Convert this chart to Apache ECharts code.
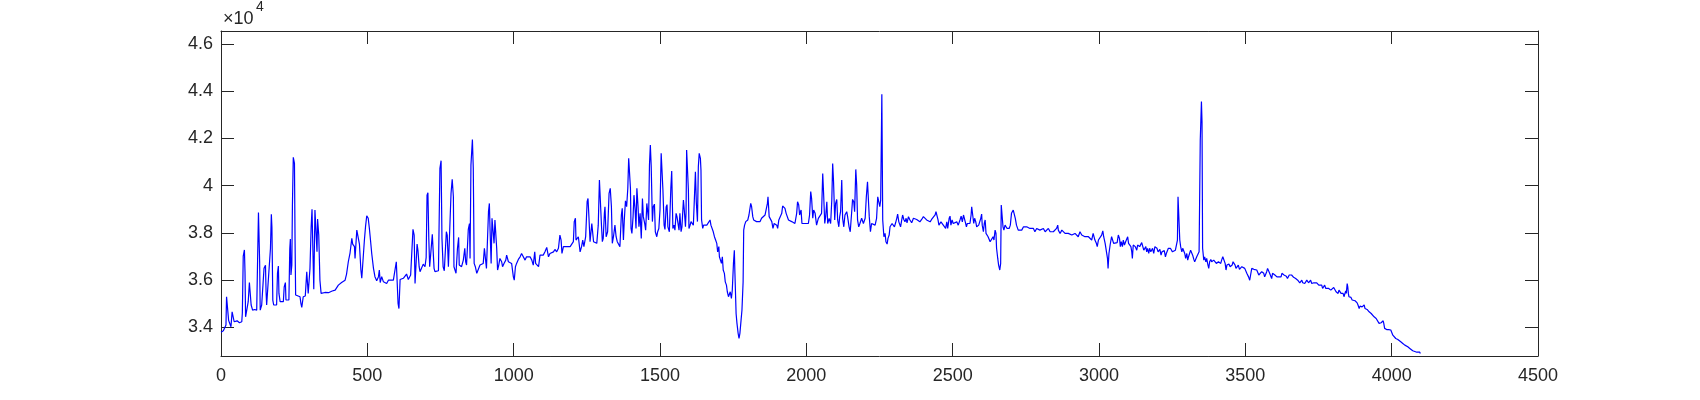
<!DOCTYPE html>
<html>
<head>
<meta charset="utf-8">
<script src="https://cdn.jsdelivr.net/npm/echarts@6/dist/echarts.min.js"></script>
<style>html,body{margin:0;padding:0;background:#fff;}#chart{width:1700px;height:400px;}</style>
</head>
<body>
<div id="chart"></div>
<script>
// Signal: [sample index, value]
const trace0 = [[0,33800],[4,33750],[8,33860],[14,33890],[17,34100],[19,35300],[24,35300],[26,34300],[29,34200],[34,34030],[38,34660],[42,34660],[45,34240],[55,34280],[63,34200],[71,34240],[73,34620],[76,37020],[80,37280],[82,36360],[84,34450],[90,34450],[93,35090],[97,35900],[101,35900],[103,34950],[108,34730],[115,34760],[122,34730],[125,36810],[128,38860],[131,38880],[132,36780],[134,34730],[139,34950],[147,36500],[152,36630],[154,35510],[156,34950],[162,34950],[169,37350],[172,38790],[174,38240],[177,35160],[180,34950],[190,34950],[193,36290],[196,36600],[198,35440],[202,35090],[213,35090],[216,35720],[220,35900],[222,35160],[232,35160],[235,37320],[237,37740],[239,36220],[242,36640],[244,39140],[247,41200],[251,40950],[253,37700],[255,35370],[260,35300],[270,35300],[273,35020],[276,34850],[281,35300],[288,35330],[290,35330],[293,36360],[296,36400],[298,35440],[304,36500],[308,38240],[311,39000],[314,37280],[317,35620],[321,38970],[326,38970],[328,37200],[330,38590],[334,37910],[338,36000],[342,35440],[344,35470],[355,35480],[367,35470],[380,35540],[390,35580],[401,35790],[412,35900],[424,36000],[429,36260],[435,36780],[441,37160],[447,37770],[450,37530],[456,37420],[458,36920],[464,38120],[469,38050],[473,37530],[478,36430],[481,36080],[483,36430],[490,37700],[494,38290],[498,38730],[503,38620],[507,38190],[511,37670],[515,37130],[521,36500],[526,36150],[532,35980],[538,36150],[541,36430],[544,35900],[549,36150],[555,35930],[560,36000],[566,35860],[572,36000],[580,36000],[589,36000],[592,35930],[599,36780],[603,36740],[605,35020],[608,34800],[612,36030],[617,36000],[623,36080],[629,36000],[634,36260],[640,36030],[645,36080],[648,36220],[652,36150],[656,38150],[660,37910],[663,35860],[665,35790],[670,37530],[673,37250],[677,36570],[680,36360],[686,36430],[691,36680],[697,36570],[701,36960],[704,39600],[707,39700],[710,37770],[713,36570],[718,36500],[722,37940],[726,37910],[728,36500],[731,36360],[737,36290],[743,36400],[748,40730],[752,41060],[755,37770],[759,36570],[763,36400]];
const trace1 = [[765,36430],[770,38050],[773,37910],[777,36570],[783,36640],[786,39680],[790,40270],[794,39530],[796,36570],[800,36640],[803,36290],[808,37350],[812,37810],[814,36640],[819,36640],[822,36570],[828,36850],[833,37350],[836,36780],[839,36640],[845,38150],[849,38400],[851,36920],[854,40870],[859,41960],[862,40730],[865,36710],[869,36570],[874,36290],[879,36360],[885,36640],[891,36710],[896,36710],[900,37350],[903,37350],[907,36500],[914,38900],[917,39250],[919,38260],[923,36710],[926,38620],[931,38660],[933,37560],[936,38550],[940,38480],[942,37350],[945,36430],[949,36640],[953,36920],[959,36780],[962,36570],[967,36710],[973,36850],[976,37060],[982,36780],[988,36850],[993,36710],[999,36140],[1002,36000],[1006,36570],[1010,36710],[1016,36880],[1022,36990],[1027,37130],[1033,37060],[1039,36850],[1044,36990],[1050,37060],[1056,36990],[1062,36850],[1067,36640],[1072,37200],[1075,36710],[1081,36780],[1085,36570],[1090,37060],[1096,36990],[1101,37060],[1107,37200],[1113,37390],[1119,36990],[1124,37130],[1130,37200],[1136,37200],[1141,37300],[1147,37200],[1153,37350],[1158,37910],[1162,37700],[1165,37130],[1170,37420],[1175,37350],[1181,37420],[1187,37350],[1193,37420],[1198,37350],[1204,37630],[1207,38480],[1211,38620],[1213,37700],[1218,37700],[1221,37840],[1227,37200],[1232,37420],[1236,37700],[1240,37420],[1246,37840],[1251,39320],[1254,39460],[1257,38720],[1261,37630],[1267,38400],[1270,38400],[1273,37630],[1277,37560],[1284,37560],[1289,38330],[1293,40240],[1297,40240],[1300,38330],[1303,37630],[1306,37770],[1310,38830],[1312,39110],[1316,37840],[1321,38050],[1326,39680],[1330,39890],[1334,39110],[1337,37560],[1341,37840],[1346,38330],[1350,37840],[1354,37630],[1360,37560],[1363,37420],[1368,38760],[1371,39040],[1375,37700],[1378,38550],[1382,39360],[1386,39110],[1390,39890],[1393,41160],[1396,41160],[1399,39890],[1401,38190],[1404,37980],[1408,38690],[1411,39600],[1415,38970],[1418,38190],[1421,39890],[1425,39110],[1428,38260],[1432,38830],[1436,37770],[1440,39460],[1443,38690],[1448,38380],[1451,38120],[1455,39250],[1458,39320],[1461,38550],[1464,40870],[1467,41720],[1470,40800],[1474,38480],[1477,39110],[1481,39220],[1484,38050],[1489,37840],[1492,38050],[1496,38190],[1500,38970],[1504,41370],[1507,41410],[1510,39820],[1514,38330],[1517,38150],[1521,39100],[1524,39200],[1527,38260],[1532,38050]];
const trace2 = [[1533,38010],[1537,39890],[1540,40620],[1542,40590],[1544,38190],[1548,38330],[1551,38120],[1555,38830],[1558,38690],[1562,38760],[1565,38120],[1568,38830],[1572,38050],[1575,38260],[1580,39390],[1583,38970],[1587,38260],[1589,38830],[1591,41510],[1595,41580],[1597,39820],[1599,38190],[1603,38330],[1606,38480],[1611,38550],[1614,38330],[1617,38260],[1621,40590],[1624,39320],[1628,38480],[1631,40800],[1634,41370],[1638,41160],[1640,40660],[1642,38550],[1646,38190],[1649,38330],[1654,38260],[1660,38330],[1665,38400],[1671,38550],[1674,38330],[1679,38260],[1682,38050],[1686,37840],[1690,37700],[1694,37560],[1697,37200],[1701,37420],[1703,36990],[1706,36920],[1710,36710],[1713,36990],[1716,36430],[1720,36290],[1723,35930],[1727,35790],[1730,35510],[1734,35300],[1737,35230],[1740,35510],[1744,35230],[1747,35580],[1751,36710],[1754,37270],[1756,36290],[1760,34590],[1763,34170],[1767,33750],[1770,33530],[1773,33750],[1777,34310],[1780,34730],[1784,35930],[1786,38120],[1789,38330],[1793,38480],[1796,38400],[1800,38550],[1804,38760],[1808,38830],[1810,39250],[1813,39110],[1817,38690],[1820,38550],[1825,38620],[1830,38480],[1836,38400],[1842,38480],[1847,38620],[1853,38620],[1859,38760],[1862,38830],[1867,39250],[1869,39530],[1873,38690],[1877,38620],[1882,38480],[1886,38190],[1890,38400],[1893,38480],[1899,38330],[1902,38190],[1906,38550],[1910,38620],[1916,38830],[1919,39140],[1923,39080],[1927,39040],[1931,38830],[1934,38760],[1939,38550],[1944,38620],[1950,38480],[1956,38550],[1961,38400],[1967,38830],[1970,39320],[1974,39180],[1977,38760],[1982,38970],[1985,38400],[1990,38330],[1996,38400],[2001,38330],[2007,38400],[2011,38760],[2015,39750],[2018,39460],[2022,38620],[2025,38970],[2030,38830],[2035,38330],[2041,38620],[2047,38690],[2052,38830],[2056,40520],[2059,39670],[2063,38400],[2066,38690],[2070,39320],[2073,38400],[2078,38620],[2083,38400],[2087,39390],[2090,40940],[2093,40170],[2097,38550],[2100,39250],[2104,39420],[2107,38550],[2111,38260],[2114,38690],[2117,38900],[2121,40240],[2124,38620],[2128,38260],[2132,38760],[2138,38900],[2141,38690],[2146,38260],[2150,38050],[2155,38900],[2158,39420],[2162,39320],[2165,38900],[2169,40690],[2172,40030],[2175,38550],[2179,38260],[2183,38400],[2189,38620],[2195,38400],[2201,38620],[2205,39530],[2209,40170],[2212,40240],[2215,38690],[2219,38050],[2223,38400],[2229,38400],[2235,38330],[2240,38620],[2244,39530],[2247,39600],[2251,39110],[2254,39390],[2258,43870],[2261,38550],[2265,37840],[2269,37980],[2272,37630],[2276,37530],[2279,37770],[2283,37910],[2286,38260],[2289,38330],[2293,38400],[2301,38260]];
const trace3 = [[2305,38430],[2309,38620],[2312,38800],[2316,38470],[2319,38500],[2322,38260],[2326,38550],[2329,38760],[2333,38570],[2337,38470],[2341,38620],[2344,38430],[2349,38690],[2354,38550],[2360,38430],[2366,38620],[2371,38550],[2377,38570],[2383,38520],[2388,38470],[2394,38570],[2400,38690],[2406,38690],[2411,38550],[2417,38620],[2423,38470],[2428,38570],[2434,38520],[2440,38760],[2443,38900],[2447,38860],[2450,38550],[2453,38330],[2457,38400],[2460,38470],[2465,38550],[2468,38330],[2472,38260],[2476,38190],[2480,38470],[2483,38190],[2488,38620],[2491,38710],[2494,38330],[2498,38550],[2502,38400],[2508,38330],[2514,38470],[2519,38330],[2525,38550],[2529,38710],[2533,38470],[2537,38760],[2540,38830],[2543,38470],[2547,38260],[2550,38400],[2554,38330],[2559,38400],[2563,38760],[2565,39110],[2568,39040],[2572,38400],[2575,38620],[2579,38470],[2582,38260],[2585,38190],[2589,38330],[2592,38260],[2596,38620],[2599,38800],[2601,38330],[2605,38050],[2608,38400],[2611,38550],[2614,37980],[2617,37910],[2621,37840],[2624,37770],[2628,37630],[2631,37560],[2634,37700],[2638,37840],[2641,37700],[2645,38120],[2648,37980],[2650,37350],[2654,36920],[2657,36640],[2661,36430],[2664,36710],[2666,39180],[2670,39250],[2672,38260],[2675,38120],[2679,38330],[2682,38400],[2686,38190],[2689,38120],[2693,38190],[2697,38330],[2701,38830],[2704,38900],[2707,38970],[2711,38900],[2714,38620],[2718,38330],[2721,38260],[2724,38120],[2730,38190],[2736,38120],[2742,38260],[2747,38190],[2753,38260],[2759,38330],[2764,38190],[2770,38120],[2776,38190],[2781,38050],[2787,38190],[2793,38260],[2798,38120],[2804,38050],[2810,38190],[2816,38050],[2821,38120],[2827,38190],[2833,38050],[2838,37980],[2844,38050],[2850,38120],[2855,38190],[2859,38330],[2861,38120],[2867,37980],[2873,38120],[2876,38190],[2879,38050],[2884,37980],[2890,37910],[2895,37980],[2901,38050],[2907,37910],[2912,37840],[2918,37980],[2924,37910],[2929,37840],[2935,38050],[2941,37910],[2947,37910],[2952,37840],[2958,37910],[2964,37840],[2969,37770],[2975,37700],[2980,37980],[2983,38050],[2986,37700],[2991,37560],[2994,37420],[2998,37700],[3004,37630],[3009,37910],[3013,38090],[3016,37840],[3021,37560],[3025,37490],[3029,36920],[3031,36500],[3034,37130],[3038,37490],[3041,37560],[3043,37840],[3047,37910],[3050,37560],[3055,37630]];
const trace4 = [[3062,37590],[3066,37910],[3070,37770],[3073,37420],[3076,37630],[3080,37420],[3083,37700],[3087,37490],[3091,37630],[3095,37700],[3098,37840],[3101,37560],[3106,37560],[3109,37420],[3112,37200],[3114,36920],[3117,37490],[3121,37560],[3124,37420],[3129,37270],[3132,37490],[3136,37420],[3139,37420],[3142,37490],[3146,37590],[3149,37630],[3153,37270],[3156,37350],[3160,37420],[3163,37200],[3166,37350],[3170,37130],[3173,37350],[3177,37200],[3180,37270],[3183,37350],[3187,37130],[3191,37420],[3195,37490],[3198,37350],[3202,37200],[3205,37270],[3208,37300],[3212,37060],[3215,37200],[3220,37200],[3223,37250],[3227,36990],[3230,37130],[3234,37200],[3237,37350],[3240,37420],[3244,37350],[3247,37270],[3251,37200],[3254,37270],[3257,37200],[3261,37270],[3264,37350],[3268,37700],[3270,39530],[3273,39500],[3276,37700],[3279,37420],[3283,37200],[3286,37350],[3289,37270],[3293,37130],[3296,36920],[3300,37130],[3303,36850],[3306,36990],[3310,37060],[3313,37270],[3317,37200],[3320,37060],[3324,36880],[3327,36780],[3330,36850],[3334,36990],[3337,37060],[3342,37200],[3346,41930],[3350,43560],[3352,42710],[3354,37350],[3358,36850],[3361,36990],[3365,36780],[3368,36920],[3371,36710],[3375,36500],[3378,36780],[3382,36880],[3385,36780],[3388,36850],[3392,36850],[3396,36780],[3401,36710],[3404,36640],[3408,36780],[3412,36850],[3416,36710],[3419,36850],[3423,36990],[3426,37060],[3431,36710],[3434,36430],[3437,36640],[3441,36640],[3444,36680],[3448,36570],[3451,36500],[3455,36640],[3458,36780],[3461,36710],[3465,36640],[3468,36500],[3473,36570],[3476,36640],[3480,36460],[3483,36430],[3488,36570],[3491,36600],[3494,36540],[3498,36500],[3501,36430],[3505,36290],[3508,36220],[3511,36140],[3515,36000],[3518,36220],[3522,36500],[3525,36500],[3529,36460],[3532,36540],[3535,36400],[3539,36430],[3542,36360],[3546,36220],[3549,36140],[3552,36290],[3556,36360],[3559,36430],[3563,36290],[3566,36140],[3570,36220],[3573,36360],[3576,36500],[3580,36430],[3583,36290],[3587,36220],[3590,36070],[3593,36290],[3597,36330],[3601,36220],[3605,36170],[3608,36140],[3612,36070],[3615,36140],[3619,36220],[3622,36140],[3625,36290],[3629,36360],[3632,36220],[3636,36140],[3640,36170],[3644,36070],[3647,36140],[3650,36220],[3654,36290],[3658,36220],[3662,36140],[3665,36120],[3669,36140],[3672,36070],[3675,36030],[3679,36000],[3682,35930],[3686,35890],[3689,35930],[3693,36000],[3696,35890],[3699,35930],[3703,35860],[3706,35930],[3710,36000],[3713,35930],[3716,35890],[3720,35930],[3723,36000],[3727,35860],[3730,35830],[3734,35890],[3737,35930],[3740,35860],[3744,35890],[3747,35930],[3751,35790],[3754,35860],[3757,35750],[3761,35790],[3764,35650],[3768,35720],[3771,35790],[3775,35650],[3778,35610],[3781,35720],[3785,35650],[3788,35720],[3792,35580],[3795,35650],[3798,35610],[3802,35690],[3806,35640]];
const trace5 = [[3810,35510],[3813,35580],[3817,35440],[3820,35580],[3824,35510],[3827,35440],[3830,35370],[3834,35440],[3837,35300],[3841,35230],[3843,35550],[3845,35440],[3848,35860],[3850,35720],[3852,35440],[3854,35300],[3858,35230],[3861,35270],[3865,35160],[3868,35230],[3871,35180],[3875,35130],[3878,35090],[3882,35040],[3885,34950],[3889,34800],[3892,34900],[3895,34850],[3899,34870],[3902,34800],[3906,34950],[3909,34800],[3912,34800],[3916,34760],[3919,34710],[3923,34660],[3926,34630],[3930,34590],[3933,34560],[3936,34520],[3940,34450],[3943,34420],[3947,34380],[3950,34340],[3953,34310],[3957,34170],[3960,34100],[3964,34200],[3967,34240],[3971,34280],[3973,34170],[3976,33960],[3980,33890],[3983,33910],[3986,33890],[3990,33910],[3993,33960],[3997,33890],[4000,33910],[4004,33670],[4007,33600],[4010,33630],[4014,33530],[4017,33570],[4021,33490],[4024,33460],[4027,33430],[4031,33390],[4034,33350],[4038,33320],[4041,33290],[4045,33250],[4048,33210],[4051,33240],[4055,33180],[4058,33150],[4062,33110],[4065,33070],[4068,33040],[4072,33010],[4075,33040],[4079,32980],[4082,33000],[4086,32950],[4089,32970],[4092,32930],[4096,32950],[4098,32900]];

const yTickValues = [34000, 36000, 38000, 40000, 42000, 44000, 46000];
const xRange = [0, 4500];
const yRange = [32790, 46550];
const exponentBase = '×10';
const exponentPower = '4';

const signal = [].concat(trace0, trace1, trace2, trace3, trace4, trace5);

const axisColor = '#262626';
const fontFamily = 'Liberation Sans, Arial, Helvetica, sans-serif';

const chart = echarts.init(document.getElementById('chart'), null, { renderer: 'canvas' });

function xAx(pos, showLabel) {
  return {
    type: 'value', position: pos, min: xRange[0], max: xRange[1], interval: 500,
    axisLine: { show: true, onZero: false, lineStyle: { color: axisColor, width: 1 } },
    axisTick: { show: true, inside: true, length: 13, lineStyle: { color: axisColor, width: 1 } },
    axisLabel: { show: showLabel, color: axisColor, fontSize: 18, fontFamily: fontFamily, margin: 11,
      formatter: function (v) { return String(v); } },
    splitLine: { show: false }
  };
}
function yAx(pos, showLabel) {
  return {
    type: 'value', position: pos, min: yRange[0], max: yRange[1],
    axisLine: { show: true, onZero: false, lineStyle: { color: axisColor, width: 1 } },
    axisTick: { show: true, inside: true, length: 13, customValues: yTickValues, lineStyle: { color: axisColor, width: 1 } },
    axisLabel: { show: showLabel, customValues: yTickValues, color: axisColor, fontSize: 18, fontFamily: fontFamily, margin: 8,
      formatter: function (v) { return String(+(v / 10000).toFixed(1)); } },
    splitLine: { show: false }
  };
}

chart.setOption({
  animation: false,
  backgroundColor: '#ffffff',
  title: [
    { text: exponentBase, left: 223, top: 10, padding: 0, textStyle: { fontSize: 18, fontWeight: 'normal', color: axisColor, fontFamily: fontFamily } },
    { text: exponentPower, left: 256, top: 0, padding: 0, textStyle: { fontSize: 14, fontWeight: 'normal', color: axisColor, fontFamily: fontFamily } }
  ],
  grid: { left: 221, right: 162, top: 31, bottom: 44, containLabel: false },
  xAxis: [xAx('bottom', true), xAx('top', false)],
  yAxis: [yAx('left', true), yAx('right', false)],
  series: [{
    type: 'line', xAxisIndex: 0, yAxisIndex: 0, data: signal,
    showSymbol: false, symbol: 'none', smooth: false, sampling: null,
    lineStyle: { color: '#0000ff', width: 1.2 },
    emphasis: { disabled: true }
  }]
});
</script>
</body>
</html>
